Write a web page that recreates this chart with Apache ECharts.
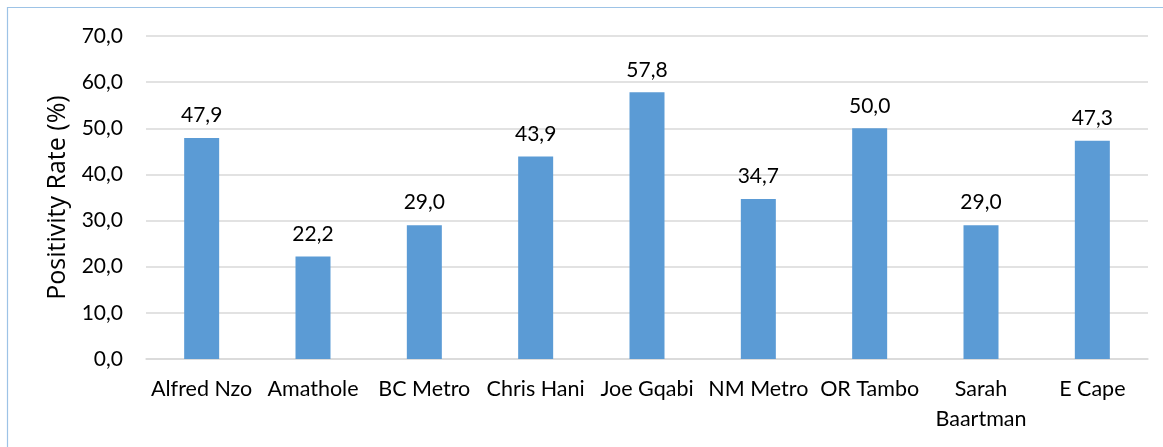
<!DOCTYPE html>
<html>
<head>
<meta charset="utf-8">
<script src="https://cdn.jsdelivr.net/npm/echarts@6/dist/echarts.min.js"></script>
<style>html,body{margin:0;padding:0;background:#fff;}#c{width:1163px;height:447px;}</style>
</head>
<body>
<div id="c"></div>
<script>
const categories = ['Alfred Nzo','Amathole','BC Metro','Chris Hani','Joe Gqabi','NM Metro','OR Tambo','Sarah\nBaartman','E Cape'];
const values = [47.9, 22.2, 29.0, 43.9, 57.8, 34.7, 50.0, 29.0, 47.3];
const yAxisName = 'Positivity Rate (%)';

const fmt = v => v.toFixed(1).replace('.', ',');
const chart = echarts.init(document.getElementById('c'));
const FONT = 'Lato';
chart.setOption({
  animation: false,
  textStyle: { fontFamily: FONT },
  graphic: [{
    type: 'rect', shape: { x: 7.5, y: 7.5, width: 1200, height: 500 },
    style: { fill: 'none', stroke: '#9DC3E6', lineWidth: 1.2 }, silent: true
  }],
  grid: { left: 146, right: 15, top: 36, bottom: 88 },
  xAxis: {
    type: 'category', data: categories,
    axisLine: { lineStyle: { color: '#D9D9D9', width: 1.5 } },
    axisTick: { show: false },
    axisLabel: { color: '#000', fontSize: 21.5, fontFamily: FONT, margin: 15, lineHeight: 30, interval: 0 }
  },
  yAxis: {
    type: 'value', min: 0, max: 70, interval: 10,
    name: yAxisName, nameLocation: 'middle', nameGap: 76,
    nameTextStyle: { color: '#000', fontSize: 25, fontFamily: 'Open Sans' },
    axisLine: { show: false }, axisTick: { show: false },
    axisLabel: { color: '#000', fontSize: 21, fontFamily: FONT, margin: 23, formatter: v => fmt(v) },
    splitLine: { lineStyle: { color: '#D9D9D9', width: 1.5 } }
  },
  series: [{
    type: 'bar', data: values, barWidth: 35,
    itemStyle: { color: '#5B9BD5' },
    label: { show: true, position: 'top', distance: 12, color: '#000', fontSize: 21, fontFamily: FONT, formatter: p => fmt(p.value) }
  }]
});
</script>
</body>
</html>
